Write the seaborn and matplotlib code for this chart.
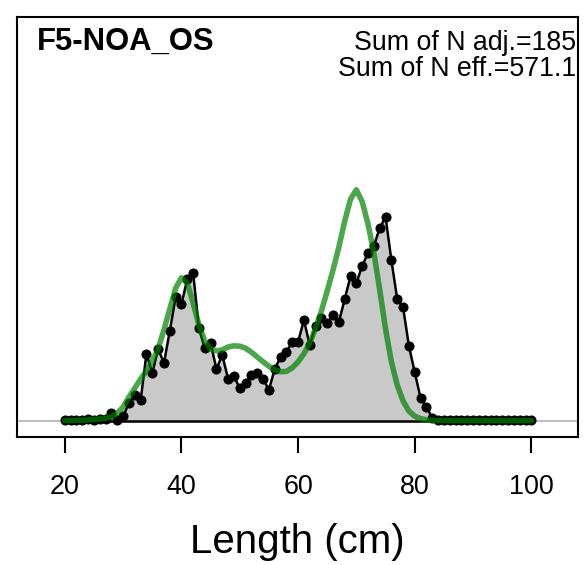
import numpy as np
import pandas as pd
import seaborn as sns
import matplotlib.pyplot as plt

# === DATA: length composition, fleet F5-NOA_OS ===
length_bins = list(range(20, 101))

# observed proportions (grey area + black points)
obs_prop = [
    0.0003, 0.0002, 0.0003, 0.0002, 0.0005, 0.0003, 0.0005, 0.0004, 0.0020, 0.0003,  # 20-29
    0.0012, 0.0045, 0.0065, 0.0052, 0.0168, 0.0120, 0.0180, 0.0145, 0.0225, 0.0310,  # 30-39
    0.0292, 0.0355, 0.0370, 0.0232, 0.0182, 0.0195, 0.0130, 0.0165, 0.0105, 0.0112,  # 40-49
    0.0082, 0.0095, 0.0115, 0.0120, 0.0105, 0.0078, 0.0130, 0.0160, 0.0172, 0.0198,  # 50-59
    0.0198, 0.0252, 0.0190, 0.0238, 0.0258, 0.0245, 0.0265, 0.0248, 0.0305, 0.0362,  # 60-69
    0.0345, 0.0388, 0.0420, 0.0438, 0.0482, 0.0510, 0.0402, 0.0305, 0.0285, 0.0188,  # 70-79
    0.0122, 0.0058, 0.0035, 0.0008, 0.0003, 0.0002, 0.0003, 0.0002, 0.0002, 0.0003,  # 80-89
    0.0002, 0.0002, 0.0003, 0.0002, 0.0002, 0.0002, 0.0003, 0.0002, 0.0002, 0.0002,  # 90-99
    0.0002,                                                                          # 100
]

# expected proportions (green line)
exp_prop = [
    0.0001, 0.0001, 0.0002, 0.0002, 0.0003, 0.0004, 0.0005, 0.0007, 0.0010, 0.0020,  # 20-29
    0.0035, 0.0060, 0.0082, 0.0105, 0.0125, 0.0150, 0.0180, 0.0228, 0.0280, 0.0332,  # 30-39
    0.0358, 0.0345, 0.0295, 0.0240, 0.0200, 0.0180, 0.0175, 0.0178, 0.0185, 0.0188,  # 40-49
    0.0187, 0.0182, 0.0172, 0.0160, 0.0148, 0.0137, 0.0128, 0.0123, 0.0124, 0.0133,  # 50-59
    0.0148, 0.0168, 0.0195, 0.0232, 0.0275, 0.0325, 0.0378, 0.0435, 0.0500, 0.0555,  # 60-69
    0.0578, 0.0548, 0.0492, 0.0420, 0.0328, 0.0230, 0.0148, 0.0090, 0.0050, 0.0025,  # 70-79
    0.0012, 0.0006, 0.0003, 0.0002, 0.0001, 0.0001, 0.0001, 0.0001, 0.0001, 0.0001,  # 80-89
    0.0001, 0.0001, 0.0001, 0.0001, 0.0001, 0.0001, 0.0001, 0.0001, 0.0001, 0.0001,  # 90-99
    0.0001,                                                                          # 100
]

fleet_label = "F5-NOA_OS"
n_adj_label = "Sum of N adj.=185"
n_eff_label = "Sum of N eff.=571.1"
x_ticks = [20, 40, 60, 80, 100]

df = pd.DataFrame({"length": length_bins, "obs": obs_prop, "exp": exp_prop})

sns.set_style("white")
plt.rcParams["font.family"] = ["Liberation Sans", "DejaVu Sans"]
plt.rcParams["text.color"] = "black"
plt.rcParams["xtick.color"] = "black"
plt.rcParams["axes.labelcolor"] = "black"

fig = plt.figure(figsize=(5.85, 5.65), dpi=100)
ax = fig.add_axes([17 / 585, 1 - 437 / 565, 561 / 585, 420 / 565])

# grey zero line across the panel
ax.axhline(0, color="#c0c0c0", lw=1.6, zorder=1)

# observed: shaded polygon + black line with points
ax.fill_between(df["length"], df["obs"], 0, color="#c9c9c9", lw=0, zorder=2)
ax.plot([df["length"].min(), df["length"].max()], [0, 0], color="black", lw=1.8, zorder=3)
sns.lineplot(data=df, x="length", y="obs", estimator=None, color="black", lw=1.8,
             marker="o", markersize=6.5, markeredgecolor="black", ax=ax, zorder=4)

# expected: thick semi-transparent green
sns.lineplot(data=df, x="length", y="exp", estimator=None, color="#008000", alpha=0.7,
             lw=4.0, ax=ax, zorder=5)

ax.set_xlim(11.8, 108.0)
ax.set_ylim(-0.004, 0.101)
ax.set_yticks([])
ax.set_ylabel("")
ax.set_xticks(x_ticks)
ax.tick_params(axis="x", bottom=True, length=11.5, width=1.5, pad=15.5,
               labelsize=19.4, direction="out", color="black", labelcolor="black")
ax.set_xlabel("Length (cm)", fontsize=29, labelpad=16, color="black")

for side in ["left", "right", "top", "bottom"]:
    ax.spines[side].set_visible(True)
    ax.spines[side].set_color("black")
    ax.spines[side].set_linewidth(1.5)

fig.text(37 / 585, 1 - 49.6 / 565, fleet_label, fontsize=22.3, fontweight="bold",
         ha="left", va="baseline", color="black")
fig.text(576 / 585, 1 - 50.4 / 565, n_adj_label, fontsize=19.3, ha="right",
         va="baseline", color="black")
fig.text(576 / 585, 1 - 75.7 / 565, n_eff_label, fontsize=19.3, ha="right",
         va="baseline", color="black")

plt.savefig("out.png", dpi=100)
plt.close()
